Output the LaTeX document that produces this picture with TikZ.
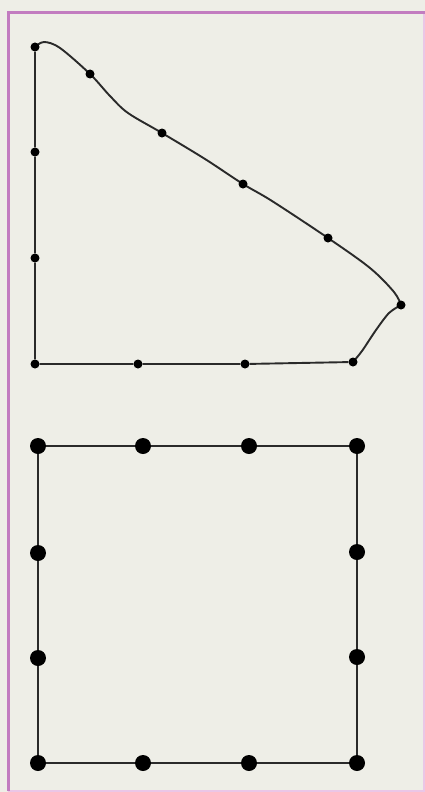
\documentclass[tikz,border=0pt]{standalone}
\definecolor{bgcol}{HTML}{EEEEE7}
\definecolor{framecol}{HTML}{C27CC0}
\definecolor{framelight}{HTML}{EBC6E6}
\definecolor{inkcol}{HTML}{2A2A2A}
\tikzset{
  smalldot/.style={circle,fill=black,inner sep=0pt,minimum size=9pt},
  bigdot/.style={circle,fill=black,inner sep=0pt,minimum size=16pt},
  thinline/.style={draw=inkcol,line width=1.9pt,line join=round},
  thickline/.style={draw=inkcol,line width=2.5pt,line join=round},
}
\begin{document}
\begin{tikzpicture}[x=1pt,y=-1pt]
\useasboundingbox (0,0) rectangle (425,792);
\fill[bgcol] (0,0) rectangle (425,792);
% frame
\draw[framelight,line width=2pt] (423.5,12) -- (423.5,790.5) -- (8,790.5);
\draw[framecol,line width=3pt] (8,791) -- (8,12.5) -- (425,12.5);
% top shape points
\coordinate (c1) at (44,42);
\coordinate (c2) at (60,48);
\coordinate (c3) at (110,96);
\coordinate (c4) at (128,113);
\coordinate (c5) at (205,159);
\coordinate (c6) at (272,201);
\coordinate (c7) at (370,268);
\coordinate (c8) at (394,292);
\coordinate (d1) at (389,313);
\coordinate (d2) at (376,330);
\coordinate (d3) at (362,351);
\draw[thinline] plot[smooth,tension=0.55] coordinates {(35,47) (c1) (c2) (90,74) (c3) (c4) (162,133) (c5) (243,184) (c6) (328,238) (c7) (c8) (401,305)};
\draw[thinline] plot[smooth,tension=0.5] coordinates {(401,305) (d1) (d2) (d3) (353,362)};
\node[smalldot] (a1) at (35,47) {};
\node[smalldot] (a2) at (90,74) {};
\node[smalldot] (a3) at (162,133) {};
\node[smalldot] (a4) at (243,184) {};
\node[smalldot] (a5) at (328,238) {};
\node[smalldot] (a6) at (401,305) {};
\node[smalldot] (a7) at (353,362) {};
\node[smalldot] (a8) at (245,364) {};
\node[smalldot] (a9) at (138,364) {};
\node[smalldot] (a10) at (35,364) {};
\node[smalldot] (a11) at (35,258) {};
\node[smalldot] (a12) at (35,152) {};
\draw[thinline] (a7) -- (a8) -- (a9) -- (a10) -- (a11) -- (a12) -- (a1);
% bottom square
\node[bigdot] (b1) at (38,446) {};
\node[bigdot] (b2) at (143,446) {};
\node[bigdot] (b3) at (249,446) {};
\node[bigdot] (b4) at (357,446) {};
\node[bigdot] (b5) at (357,552) {};
\node[bigdot] (b6) at (357,657) {};
\node[bigdot] (b7) at (357,763) {};
\node[bigdot] (b8) at (249,763) {};
\node[bigdot] (b9) at (143,763) {};
\node[bigdot] (b10) at (38,763) {};
\node[bigdot] (b11) at (38,658) {};
\node[bigdot] (b12) at (38,553) {};
\draw[thickline] (b1) -- (b2) -- (b3) -- (b4) -- (b5) -- (b6) -- (b7) -- (b8) -- (b9) -- (b10) -- (b11) -- (b12) -- (b1);
\end{tikzpicture}
\end{document}
